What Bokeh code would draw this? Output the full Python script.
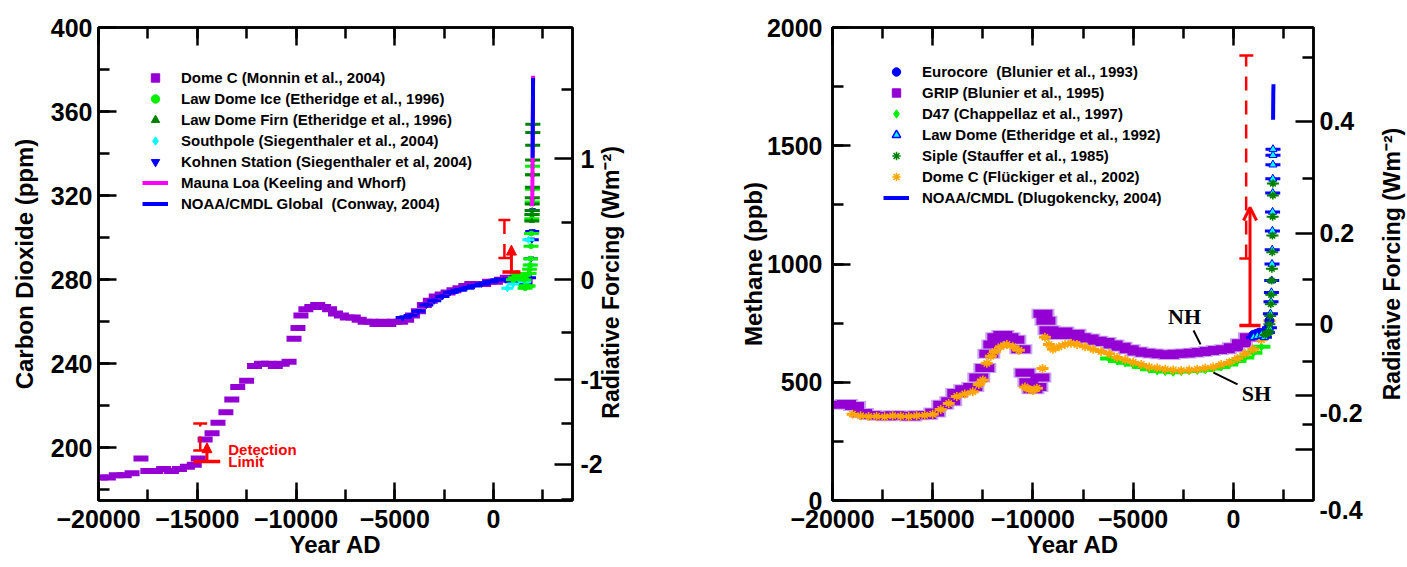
import numpy as np
from bokeh.plotting import figure
from bokeh.models import (LinearAxis, SingleIntervalTicker, FixedTicker, Legend,
                          LegendItem, Label, Arrow, NormalHead, OpenHead)
from bokeh.layouts import row
from bokeh.embed import file_html
from bokeh.resources import INLINE

FONT = "Liberation Sans"
SERIF = "Liberation Serif"
PURPLE = "#9400D3"
LILAC = "#C9A3EC"
GREEN = "#00F000"
DKGREEN = "#008000"
CYAN = "#00FFFF"
BLUE = "#0000FF"
MAGENTA = "#FF00FF"
ORANGE = "#FFA500"
RED = "#FF0000"

# ---------------- CO2 data (left panel) ----------------
domec_co2_year = [-19900, -19500, -19100, -18700, -18300, -17850, -17500, -17100, -16700, -16300,
                  -15900, -15500, -15150, -14950, -14600, -14250, -13950, -13550, -13250, -12950,
                  -12500, -12100, -11750, -11400, -11050, -10700, -10350, -10100, -9900, -9750,
                  -9500, -9200, -8900, -8600, -8300, -8000, -7700, -7400, -7100, -6800,
                  -6500, -6200, -5900, -5600, -5300, -5000, -4700, -4400, -4100, -3800,
                  -3500, -3200, -2900, -2600, -2300, -2000, -1700, -1400, -1100, -800,
                  -500, -200, 100, 400, 700, 1000, 1300, 1600]
domec_co2_ppm = [186, 186, 187, 187, 188, 195, 189, 189, 190, 189,
                 190, 191, 192, 195, 204, 207, 212, 217, 223, 229,
                 232, 239, 240, 240, 239, 240, 241, 252, 257, 263,
                 266, 267, 268, 267, 266, 264, 263, 262, 262, 261,
                 260, 260, 259, 260, 259, 260, 260, 261, 263, 265,
                 268, 270, 272, 273, 274, 275, 276, 277, 278, 278,
                 278, 279, 279, 280, 281, 280, 280, 279]

kohnen_year = [-4600, -4200, -3800, -3400, -3000, -2600, -2200, -1800, -1400, -1000,
               -600, -200, 200, 600, 1000, 1300, 1600, 1800, 1900, 1940, 1960, 1975]
kohnen_ppm = [262, 263, 265, 268, 270, 272, 274, 275, 276, 277,
              278, 279, 280, 280, 279, 281, 278, 281, 290, 299, 303, 313]

southpole_year = [700, 1000, 1300, 1600, 1770, 1850]
southpole_ppm = [276, 278, 280, 279, 299, 287]

lawdome_ice_year = [1006, 1100, 1200, 1300, 1400, 1500, 1550, 1600, 1650, 1700, 1750, 1800,
                    1830, 1860, 1880, 1900, 1920, 1940, 1950, 1960, 1968, 1975, 1978]
lawdome_ice_ppm = [280, 281, 283, 282, 281, 282, 280, 276, 277, 277, 277, 283,
                   285, 287, 290, 296, 302, 309, 311, 317, 323, 330, 334]

lawdome_firn_year = [1940, 1950, 1955, 1960, 1965, 1970, 1975, 1980, 1985, 1990, 1993]
lawdome_firn_ppm = [308, 311, 313, 316, 319, 324, 330, 337, 344, 350, 354]

maunaloa_year = [1958, 1965, 1970, 1975, 1980, 1985, 1990, 1995, 2000, 2004]
maunaloa_ppm = [315, 320, 325, 331, 338, 346, 354, 361, 369, 377]

noaa_co2_year = [1980, 1985, 1990, 1995, 2000, 2004]
noaa_co2_ppm = [338, 345, 353, 360, 368, 376]

# radiative forcing axis of CO2 panel (tick positions read in ppm)
co2_rf_labels = ["1", "0", "-1", "-2"]
co2_rf_ppm = [337.6, 280.01, 232.4, 192.3]
co2_rf_minor_ppm = [370.6, 307.4, 255.1, 211.6, 175.5]

# ---------------- CH4 data (right panel) ----------------
grip_year = [-19800, -19300, -18900, -18500, -18100, -17700, -17300, -16900, -16500, -16100,
             -15700, -15300, -14900, -14500, -14100, -13800, -13400, -13000, -12700, -12400,
             -12200, -12000, -11800, -11500, -11200, -10900, -10600, -10400, -10200, -10000,
             -9800, -9650, -9500, -9350, -9200, -9000, -8800, -8500, -8200, -7900,
             -7600, -7200, -6800, -6400, -6000, -5600, -5200, -4800, -4400, -4000,
             -3600, -3200, -2800, -2400, -2000, -1600, -1200, -800, -400, 0, 400, 800]
grip_ppb = [405, 408, 400, 370, 362, 358, 356, 360, 358, 355,
            360, 362, 372, 405, 420, 455, 470, 480, 520, 560,
            620, 660, 690, 700, 690, 680, 640, 540, 500, 470,
            480, 520, 790, 760, 720, 700, 710, 715, 700, 705,
            690, 685, 675, 670, 660, 650, 640, 630, 625, 622,
            618, 615, 620, 622, 625, 628, 632, 636, 640, 648, 665, 690]

domec_ch4_year = [-19000, -18600, -18200, -17800, -17400, -17000, -16600, -16200, -15800, -15400,
                  -15000, -14600, -14200, -13800, -13400, -13000, -12700, -12500, -12300, -12100,
                  -11900, -11600, -11300, -11000, -10700, -10400, -10200, -10000, -9800, -9520,
                  -9400, -9200, -9000, -8700, -8400, -8100, -7800, -7400, -7000, -6600,
                  -6200, -5800, -5400, -5000, -4600, -4200, -3800, -3400, -3000, -2600,
                  -2200, -1800, -1400, -1000, -600, -200, 200, 600, 1000, 1400, 1800]
domec_ch4_ppb = [365, 358, 355, 356, 354, 358, 356, 355, 358, 360,
                 365, 385, 410, 440, 450, 460, 490, 510, 580, 610,
                 630, 650, 660, 650, 635, 480, 470, 465, 475, 558,
                 690, 660, 640, 650, 660, 665, 660, 650, 640, 630,
                 620, 605, 595, 585, 575, 565, 560, 555, 552, 550,
                 552, 555, 560, 565, 575, 585, 600, 620, 640, 680, 760]

d47_year = [-6200, -5800, -5400, -5000, -4600, -4200, -3800, -3400, -3000, -2600,
            -2200, -1800, -1400, -1000, -600, -200, 200, 600, 1000, 1400]
d47_ppb = [600, 590, 582, 575, 565, 555, 548, 545, 542, 545,
           548, 550, 552, 558, 565, 575, 590, 605, 625, 650]

eurocore_year = [1000, 1150, 1300, 1450, 1600, 1700, 1750, 1800]
eurocore_ppb = [700, 705, 710, 705, 700, 715, 730, 760]

lawdome_ch4_year = [1010, 1200, 1400, 1550, 1700, 1800, 1850, 1880, 1900, 1915,
                    1930, 1940, 1950, 1958, 1965, 1970, 1975, 1978, 1980]
lawdome_ch4_ppb = [690, 695, 700, 690, 710, 730, 790, 840, 880, 930,
                   1000, 1060, 1140, 1220, 1300, 1360, 1420, 1460, 1485]

siple_year = [1600, 1700, 1750, 1800, 1840, 1870, 1890, 1910, 1925, 1940, 1950, 1960, 1970, 1975]
siple_ppb = [700, 705, 715, 745, 780, 830, 870, 930, 980, 1050, 1120, 1200, 1290, 1340]

noaa_ch4_year = [1983, 1988, 1993, 1998, 2004]
noaa_ch4_ppb = [1610, 1660, 1710, 1740, 1760]

# radiative forcing axis of CH4 panel: tick marks and (offset) tick labels, in ppb
ch4_rf_tick_ppb = [1603.0, 1130.0, 746.0, 445.0, 217.0]
ch4_rf_minor_ppb = [1873.0, 1363.0, 936.0, 588.0, 323.0]
ch4_rf_labels = ["0.4", "0.2", "0", "-0.2", "\n-0.4"]
ch4_rf_label_ppb = [1603.0, 1130.0, 746.0, 372.0, 30.0]

RF_TITLE = "Radiative Forcing (Wm\u207b\u00b2)"

# ---------------- annotation geometry (data units) ----------------
det_bar = dict(x=-14848, lo=198.8, hi=211.6, cap0=-15203, cap1=-14494, capb1=-14595,
               arrow_x=-14509, arrow_lo=193.5, arrow_hi=202.5, base0=-15203, base1=-13835)
co2_bar = dict(x=553, lo=290.4, hi=308.4, cap0=248, cap1=856, capb1=957,
               arrow_x=907, arrow_lo=283.7, arrow_hi=296.5, base0=451, base1=1364)
ch4_bar = dict(x=640, lo=1023, hi=1882, cap0=300, cap1=1000, capb1=850,
               arrow_x=833, arrow_lo=740, arrow_hi=1239, base0=300, base1=1357)

OFF = [-1.0e7]  # legend sample renderers sit outside the visible range
TOP, BOTTOM = 27, 67  # shared frame borders (the row aligns the frames)


def style_axis(ax, show_labels=True, standoff=8):
    ax.axis_line_color = "black"
    ax.axis_line_width = 2.5
    ax.major_tick_line_color = "black"
    ax.major_tick_line_width = 2.5
    ax.minor_tick_line_color = "black"
    ax.minor_tick_line_width = 2.5
    ax.major_tick_in = 18
    ax.major_tick_out = 0
    ax.minor_tick_in = 11
    ax.minor_tick_out = 0
    ax.major_label_standoff = standoff
    ax.major_label_text_font = FONT
    ax.major_label_text_font_style = "bold"
    if show_labels:
        ax.major_label_text_font_size = "25px"
        ax.major_label_text_color = "black"
    else:
        ax.major_label_text_font_size = "1px"
        ax.major_label_text_color = None
    ax.axis_label_text_font = FONT
    ax.axis_label_text_font_style = "bold"
    ax.axis_label_text_font_size = "24px"
    ax.axis_label_text_color = "black"


def text_axis(ticks, labels, standoff, size="25px", orientation=None):
    ax = LinearAxis(ticker=FixedTicker(ticks=ticks, minor_ticks=[]),
                    major_label_overrides={v: t for v, t in zip(ticks, labels)})
    ax.axis_line_color = None
    ax.major_tick_line_color = None
    ax.minor_tick_line_color = None
    ax.major_tick_in = 0
    ax.major_tick_out = 0
    ax.minor_tick_in = 0
    ax.minor_tick_out = 0
    ax.major_label_standoff = standoff
    ax.major_label_text_font = FONT
    ax.major_label_text_font_style = "bold"
    ax.major_label_text_font_size = size
    ax.major_label_text_color = "black"
    if orientation is not None:
        ax.major_label_orientation = orientation
    return ax


def base_figure(width, yr, bl, br):
    p = figure(width=width, height=567, x_range=(-20000, 4000), y_range=yr,
               output_backend="svg", toolbar_location=None,
               min_border_left=bl, min_border_right=br, min_border_top=TOP, min_border_bottom=BOTTOM)
    p.grid.visible = False
    p.outline_line_color = "black"
    p.outline_line_width = 2.5
    p.background_fill_color = "white"
    p.border_fill_color = "white"
    p.xaxis.ticker = SingleIntervalTicker(interval=5000, num_minor_ticks=2)
    p.xaxis.axis_label = "Year AD"
    style_axis(p.xaxis[0], True, 9)
    p.xaxis.axis_label_standoff = 0
    top = LinearAxis(ticker=SingleIntervalTicker(interval=5000, num_minor_ticks=2))
    style_axis(top, False, 0)
    p.add_layout(top, "above")
    return p


def red_bar(p, d, head):
    p.segment(x0=[d["x"]], y0=[d["lo"]], x1=[d["x"]], y1=[d["hi"]], line_color=RED,
              line_width=2.5, line_dash="14 10")
    p.segment(x0=[d["cap0"], d["cap0"]], y0=[d["hi"], d["lo"]], x1=[d["cap1"], d["capb1"]],
              y1=[d["hi"], d["lo"]], line_color=RED, line_width=2.5)
    p.segment(x0=[d["base0"]], y0=[d["arrow_lo"]], x1=[d["base1"]], y1=[d["arrow_lo"]],
              line_color=RED, line_width=3.5)
    p.add_layout(Arrow(end=head, x_start=d["arrow_x"], y_start=d["arrow_lo"],
                       x_end=d["arrow_x"], y_end=d["arrow_hi"], line_color=RED, line_width=3))


def legend_for(p, entries, loc):
    items = []
    for label, kind, kw in entries:
        if kind == "line":
            r = p.line(x=OFF * 2, y=[OFF[0], OFF[0] + 1], **kw)
        else:
            r = p.scatter(x=OFF, y=OFF, marker=kind, **kw)
        items.append(LegendItem(label=label, renderers=[r]))
    lg = Legend(items=items, location=loc, padding=0, margin=0, spacing=0,
                label_height=21, glyph_height=21, glyph_width=26, label_standoff=13,
                border_line_color=None, background_fill_alpha=0,
                label_text_font=FONT, label_text_font_style="bold",
                label_text_font_size="15px", label_text_color="black")
    p.add_layout(lg)


# ================= LEFT: CO2 =================
p1 = base_figure(700, (175, 400), 98, 128)
p1.yaxis.ticker = SingleIntervalTicker(interval=40, num_minor_ticks=2)
p1.yaxis.axis_label = "Carbon Dioxide (ppm)"
style_axis(p1.yaxis[0], True, 6)
p1.yaxis.axis_label_standoff = 10

r1 = LinearAxis(ticker=FixedTicker(ticks=co2_rf_ppm, minor_ticks=co2_rf_minor_ppm),
                major_label_overrides={v: t for v, t in zip(co2_rf_ppm, co2_rf_labels)})
style_axis(r1, True, 8)
p1.add_layout(r1, "right")
p1.add_layout(text_axis([213.9], [RF_TITLE], 6, "23px", np.pi / 2), "right")

p1.rect(domec_co2_year, domec_co2_ppm, width=15, height=6, width_units="screen",
        height_units="screen", fill_color=PURPLE, line_color=None)
p1.rect(kohnen_year, kohnen_ppm, width=14, height=3, width_units="screen",
        height_units="screen", fill_color=BLUE, line_color=None)
p1.scatter(kohnen_year, kohnen_ppm, marker="inverted_triangle", size=6, fill_color=BLUE, line_color=BLUE)
p1.rect(southpole_year, southpole_ppm, width=12, height=3, width_units="screen",
        height_units="screen", fill_color=CYAN, line_color=None)
p1.scatter(southpole_year, southpole_ppm, marker="diamond", size=7, fill_color=CYAN, line_color=CYAN)
p1.rect(lawdome_ice_year, lawdome_ice_ppm, width=15, height=3, width_units="screen",
        height_units="screen", fill_color=GREEN, line_color=None)
p1.scatter(lawdome_ice_year, lawdome_ice_ppm, marker="circle", size=5, fill_color=GREEN, line_color=GREEN)
p1.rect(lawdome_firn_year, lawdome_firn_ppm, width=15, height=3, width_units="screen",
        height_units="screen", fill_color=DKGREEN, line_color=None)
p1.scatter(lawdome_firn_year, lawdome_firn_ppm, marker="triangle", size=5, fill_color=DKGREEN, line_color=DKGREEN)
p1.line(maunaloa_year, maunaloa_ppm, line_color=MAGENTA, line_width=4)
p1.line(noaa_co2_year, noaa_co2_ppm, line_color=BLUE, line_width=4)

red_bar(p1, det_bar, NormalHead(size=10, fill_color=RED, line_color=RED))
red_bar(p1, co2_bar, NormalHead(size=10, fill_color=RED, line_color=RED))
for txt, yy in (("Detection", 199.2), ("Limit", 193.5)):
    p1.add_layout(Label(x=-13430, y=yy, text=txt, text_align="left", text_baseline="middle",
                        text_font=FONT, text_font_style="bold", text_font_size="15px", text_color=RED))

legend_for(p1, [
    ("Dome C (Monnin et al., 2004)", "square", dict(fill_color=PURPLE, line_color=PURPLE)),
    ("Law Dome Ice (Etheridge et al., 1996)", "circle", dict(fill_color=GREEN, line_color=GREEN)),
    ("Law Dome Firn (Etheridge et al., 1996)", "triangle", dict(fill_color=DKGREEN, line_color=DKGREEN)),
    ("Southpole (Siegenthaler et al., 2004)", "diamond", dict(fill_color=CYAN, line_color=CYAN)),
    ("Kohnen Station (Siegenthaler et al, 2004)", "inverted_triangle", dict(fill_color=BLUE, line_color=BLUE)),
    ("Mauna Loa (Keeling and Whorf)", "line", dict(line_color=MAGENTA, line_width=4)),
    ("NOAA/CMDL Global  (Conway, 2004)", "line", dict(line_color=BLUE, line_width=4)),
], (44, 286))

# ================= RIGHT: CH4 =================
p2 = base_figure(677, (0, 2000), 132, 64)
p2.yaxis.ticker = SingleIntervalTicker(interval=500, num_minor_ticks=2)
p2.yaxis.axis_label = "Methane (ppb)"
style_axis(p2.yaxis[0], True, 10)
p2.yaxis.axis_label_standoff = -3

r2 = LinearAxis(ticker=FixedTicker(ticks=ch4_rf_tick_ppb, minor_ticks=ch4_rf_minor_ppb))
style_axis(r2, False, 0)
p2.add_layout(r2, "right")
p2.add_layout(text_axis(ch4_rf_label_ppb, ch4_rf_labels, 6), "right")

p2.rect(grip_year, grip_ppb, width=23, height=10, width_units="screen",
        height_units="screen", fill_color=LILAC, line_color=None)
p2.rect(grip_year, grip_ppb, width=19, height=8, width_units="screen",
        height_units="screen", fill_color=PURPLE, line_color=None)
p2.rect(d47_year, d47_ppb, width=18, height=4, width_units="screen",
        height_units="screen", fill_color=GREEN, line_color=None)
p2.scatter(d47_year, d47_ppb, marker="diamond", size=8, fill_color=GREEN, line_color=GREEN)
p2.rect(domec_ch4_year, domec_ch4_ppb, width=12, height=3, width_units="screen",
        height_units="screen", fill_color=ORANGE, line_color=None)
p2.scatter(domec_ch4_year, domec_ch4_ppb, marker="asterisk", size=9, line_color=ORANGE, line_width=1.6)
p2.scatter(eurocore_year, eurocore_ppb, marker="circle", size=9, fill_color=BLUE, line_color=BLUE)
p2.rect(lawdome_ch4_year, lawdome_ch4_ppb, width=15, height=3, width_units="screen",
        height_units="screen", fill_color=BLUE, line_color=None)
p2.scatter(lawdome_ch4_year, lawdome_ch4_ppb, marker="triangle", size=8, fill_color=CYAN, line_color=BLUE)
p2.rect(siple_year, siple_ppb, width=12, height=2, width_units="screen",
        height_units="screen", fill_color=DKGREEN, line_color=None)
p2.scatter(siple_year, siple_ppb, marker="asterisk", size=8, line_color=DKGREEN, line_width=1.6)
p2.line(noaa_ch4_year, noaa_ch4_ppb, line_color=BLUE, line_width=4)

red_bar(p2, ch4_bar, OpenHead(size=13, line_color=RED, line_width=3))

for txt, xx, yy in (("NH", -2435, 778), ("SH", 1158, 453)):
    p2.add_layout(Label(x=xx, y=yy, text=txt, text_align="center", text_baseline="middle",
                        text_font=SERIF, text_font_style="bold", text_font_size="22px",
                        text_color="black"))
p2.segment(x0=[-1986, 210], y0=[719, 491], x1=[-1637, -988], y1=[660, 541],
           line_color="black", line_width=2)

legend_for(p2, [
    ("Eurocore  (Blunier et al., 1993)", "circle", dict(fill_color=BLUE, line_color=BLUE)),
    ("GRIP (Blunier et al., 1995)", "square", dict(fill_color=PURPLE, line_color=PURPLE)),
    ("D47 (Chappellaz et al., 1997)", "diamond", dict(fill_color=GREEN, line_color=GREEN)),
    ("Law Dome (Etheridge et al., 1992)", "triangle", dict(fill_color=CYAN, line_color=BLUE, line_width=1.5)),
    ("Siple (Stauffer et al., 1985)", "asterisk", dict(line_color=DKGREEN, line_width=1.5)),
    ("Dome C (Fl\u00fcckiger et al., 2002)", "asterisk", dict(line_color=ORANGE, line_width=1.5)),
    ("NOAA/CMDL (Dlugokencky, 2004)", "line", dict(line_color=BLUE, line_width=4)),
], (51, 292))

# ======= narrow strip carrying the CH4 radiative-forcing title (reads bottom-to-top) =======
p3 = figure(width=30, height=567, x_range=(0, 1), y_range=(0, 2000),
            output_backend="svg", toolbar_location=None,
            min_border_left=28, min_border_right=0, min_border_top=TOP, min_border_bottom=BOTTOM)
p3.xaxis.visible = False
p3.grid.visible = False
p3.outline_line_color = None
p3.background_fill_color = "white"
p3.border_fill_color = "white"
p3.scatter(OFF, OFF, size=1, alpha=0)
ya = p3.yaxis[0]
ya.axis_line_color = None
ya.major_tick_line_color = None
ya.minor_tick_line_color = None
ya.major_label_text_font_size = "1px"
ya.major_label_text_color = None
ya.major_label_standoff = 0
ya.axis_label = RF_TITLE
ya.axis_label_text_font = FONT
ya.axis_label_text_font_style = "bold"
ya.axis_label_text_font_size = "23px"
ya.axis_label_text_color = "black"
ya.axis_label_standoff = -3

layout = row(p1, p2, p3)
open("out.html", "w").write(file_html(layout, INLINE))
